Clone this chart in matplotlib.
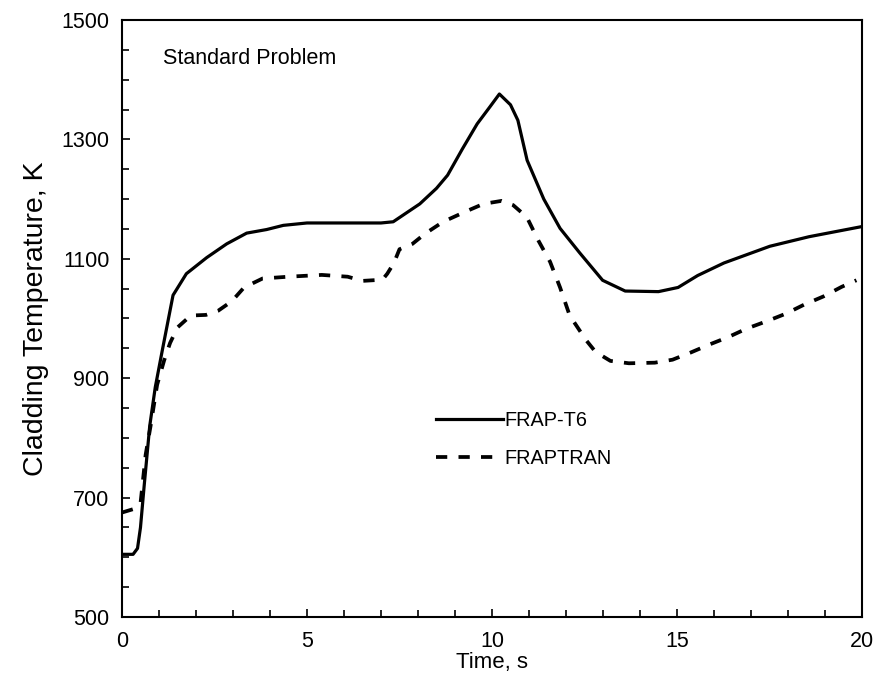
import numpy as np
import matplotlib.pyplot as plt
from matplotlib.ticker import MultipleLocator

plt.rcParams['font.family'] = ['Liberation Sans', 'DejaVu Sans']

# FRAP-T6 (solid)
t6_time = [0.0, 0.3, 0.42, 0.5, 0.6, 0.75, 0.9, 1.1, 1.38, 1.74, 2.29, 2.83, 3.37, 3.91,
           4.36, 5.0, 6.0, 7.0, 7.33, 8.05, 8.5, 8.8, 9.2, 9.6, 9.95, 10.2, 10.5, 10.7,
           10.95, 11.4, 11.84, 12.37, 12.99, 13.6, 14.5, 15.03, 15.56, 16.27, 17.51, 18.57, 20.0]
t6_temp = [605, 605, 615, 650, 720, 820, 885, 950, 1039, 1075, 1102, 1125, 1143, 1149,
           1156, 1160, 1160, 1160, 1162, 1192, 1218, 1240, 1284, 1326, 1355, 1376, 1358, 1332,
           1265, 1200, 1151, 1110, 1064, 1046, 1045, 1052, 1072, 1093, 1121, 1137, 1154]

# FRAPTRAN (dashed)
tran_time = [0.0, 0.32, 0.5, 0.64, 0.77, 0.95, 1.14, 1.3, 1.5, 1.86, 2.27, 2.6, 2.97, 3.3,
             3.8, 4.5, 5.4, 6.1, 6.5, 7.04, 7.17, 7.35, 7.5, 7.85, 8.19, 8.68, 9.32, 9.77,
             10.26, 10.57, 10.94, 11.25, 11.57, 11.84, 12.1, 12.54, 12.8, 13.2, 13.7, 14.4,
             14.88, 15.37, 15.9, 16.39, 16.88, 17.45, 17.94, 18.43, 18.96, 19.45, 19.85]
tran_temp = [675, 681, 690, 772, 819, 889, 930, 959, 985, 1005, 1006, 1013, 1029, 1052,
             1067, 1070, 1073, 1070, 1063, 1065, 1075, 1093, 1116, 1125, 1142, 1162, 1180, 1192,
             1197, 1190, 1170, 1131, 1095, 1052, 1005, 964, 944, 929, 925, 926,
             931, 943, 957, 969, 983, 996, 1008, 1023, 1037, 1053, 1064]

fig = plt.figure(figsize=(8.82, 6.75), dpi=100)
ax = fig.add_axes([0.1383, 0.0859, 0.839, 0.8845])

ax.plot(t6_time, t6_temp, color='black', lw=2.3, label='FRAP-T6')
ax.plot(tran_time, tran_temp, color='black', lw=2.7, linestyle=(0, (3, 3)), label='FRAPTRAN')

ax.set_xlim(0, 20)
ax.set_ylim(500, 1500)
ax.set_xticks(range(0, 21, 5))
ax.set_yticks(range(500, 1501, 200))
ax.xaxis.set_minor_locator(MultipleLocator(1))
ax.yaxis.set_minor_locator(MultipleLocator(50))
ax.tick_params(which='both', direction='in', top=False, right=False, labelsize=15.5, width=1.2)
ax.tick_params(which='major', length=6)
ax.tick_params(axis='y', which='major', pad=9)
ax.tick_params(axis='x', which='major', pad=10)
ax.tick_params(which='minor', length=5)
for sp in ax.spines.values():
    sp.set_linewidth(1.5)

ax.set_xlabel('Time, s', fontsize=16, labelpad=0)
ax.set_ylabel('Cladding Temperature, K', fontsize=20.5, labelpad=9)

ax.text(0.055, 0.935, 'Standard Problem', transform=ax.transAxes, fontsize=15.5,
        va='center', ha='left')

ax.legend(loc='upper left', bbox_to_anchor=(0.4, 0.375), frameon=False, fontsize=14.3,
          handlelength=3.4, handletextpad=0.05, labelspacing=0.95)

fig.savefig('out.png', dpi=100)
